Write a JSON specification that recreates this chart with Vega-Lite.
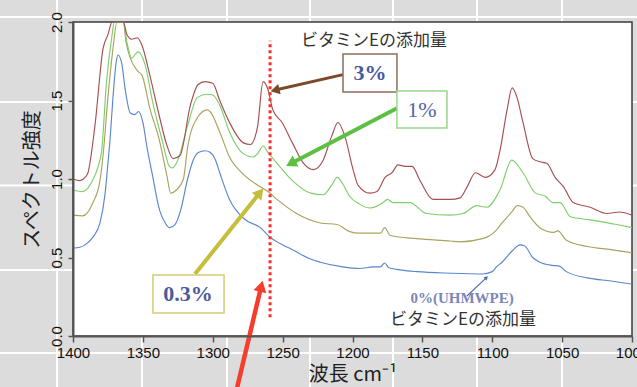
{
  "$schema": "https://vega.github.io/schema/vega-lite/v6.json",
  "width": 559,
  "height": 314,
  "autosize": {"type": "none"},
  "padding": {"left": 73, "top": 22, "right": 5, "bottom": 51},
  "background": "#dcdcdc",
  "config": {
    "view": {"stroke": null},
    "axis": {
      "labelFont": "Liberation Sans", "labelFontSize": 15, "labelColor": "#111", "labelFlush": false,
      "tickColor": "#555", "tickWidth": 1.5, "domainColor": "#555", "domainWidth": 2, "grid": false,
      "titleFont": "Noto Sans CJK JP", "titleFontSize": 20, "titleFontWeight": "normal", "titleColor": "#222"
    },
    "axisX": {"labelPadding": 3, "tickSize": 6, "titlePadding": 4},
    "axisY": {"labelAngle": -90, "labelAlign": "center", "labelBaseline": "bottom", "labelPadding": 4, "tickSize": 5, "titlePadding": 7}
  },
  "datasets": {
    "bgx": [{"w": 1411.4}, {"w": 1350.6}, {"w": 1289.8}, {"w": 1230.4}, {"w": 1171}, {"w": 1110.9}, {"w": 1050.1}],
    "bgy": [{"v": 2.032}, {"v": 1.49}, {"v": 0.958}, {"v": 0.42}, {"v": -0.108}],
    "arrows": [
      {"id": "brown", "w": 1206.8, "v": 1.665, "w2": 1254.4, "v2": 1.568},
      {"id": "green", "w": 1168.2, "v": 1.45, "w2": 1243, "v2": 1.104},
      {"id": "olive", "w": 1312.7, "v": 0.395, "w2": 1267, "v2": 0.905},
      {"id": "red", "w": 1282.6, "v": -0.33, "w2": 1265.6, "v2": 0.306},
      {"id": "blue", "w": 1118.1, "v": 0.255, "w2": 1104.5, "v2": 0.369}
    ],
    "boxes": [
      {"id": "b3", "w": 1206.8, "w2": 1168.2, "v": 1.796, "v2": 1.554, "tw": 1187.5, "tv": 1.675, "t": "3%"},
      {"id": "b1", "w": 1168.2, "w2": 1132.4, "v": 1.56, "v2": 1.325, "tw": 1150.3, "tv": 1.44, "t": "1%"},
      {"id": "b03", "w": 1342.8, "w2": 1291.9, "v": 0.389, "v2": 0.146, "tw": 1317.7, "tv": 0.267, "t": "0.3%"}
    ],
    "labels": [
      {"id": "top", "w": 1184.6, "v": 1.882, "t": "ビタミンEの添加量"},
      {"id": "bottom", "w": 1120.9, "v": 0.1, "t": "ビタミンEの添加量"},
      {"id": "uh", "w": 1121.6, "v": 0.24, "t": "0%(UHMWPE)"}
    ],
    "spectra": [
      {"s":"0%","w":1400,"v":0.56},{"s":"0%","w":1395,"v":0.565},{"s":"0%","w":1390,"v":0.59},{"s":"0%","w":1385.7,"v":0.63},{"s":"0%","w":1380.7,"v":0.72},{"s":"0%","w":1377,"v":0.91},{"s":"0%","w":1375,"v":1.1},{"s":"0%","w":1373.5,"v":1.25},{"s":"0%","w":1371.4,"v":1.52},{"s":"0%","w":1369,"v":1.75},{"s":"0%","w":1367.8,"v":1.79},{"s":"0%","w":1365,"v":1.73},{"s":"0%","w":1362.8,"v":1.58},{"s":"0%","w":1359,"v":1.42},{"s":"0%","w":1356,"v":1.41},{"s":"0%","w":1353,"v":1.43},{"s":"0%","w":1350,"v":1.36},{"s":"0%","w":1347,"v":1.2},{"s":"0%","w":1343.5,"v":1.04},{"s":"0%","w":1338,"v":0.8},{"s":"0%","w":1334,"v":0.72},{"s":"0%","w":1331,"v":0.69},{"s":"0%","w":1327,"v":0.71},{"s":"0%","w":1323,"v":0.8},{"s":"0%","w":1318,"v":1.0},{"s":"0%","w":1314,"v":1.12},{"s":"0%","w":1310,"v":1.17},{"s":"0%","w":1305.5,"v":1.18},{"s":"0%","w":1302,"v":1.17},{"s":"0%","w":1298,"v":1.12},{"s":"0%","w":1295,"v":1.04},{"s":"0%","w":1288,"v":0.87},{"s":"0%","w":1278,"v":0.75},{"s":"0%","w":1266,"v":0.69},{"s":"0%","w":1259,"v":0.63},{"s":"0%","w":1250,"v":0.58},{"s":"0%","w":1243,"v":0.55},{"s":"0%","w":1230,"v":0.49},{"s":"0%","w":1223,"v":0.47},{"s":"0%","w":1207,"v":0.44},{"s":"0%","w":1195,"v":0.43},{"s":"0%","w":1185,"v":0.44},{"s":"0%","w":1180,"v":0.44},{"s":"0%","w":1177,"v":0.465},{"s":"0%","w":1174,"v":0.435},{"s":"0%","w":1165,"v":0.42},{"s":"0%","w":1154,"v":0.41},{"s":"0%","w":1130,"v":0.4},{"s":"0%","w":1107,"v":0.395},{"s":"0%","w":1100,"v":0.41},{"s":"0%","w":1097,"v":0.44},{"s":"0%","w":1093,"v":0.47},{"s":"0%","w":1086,"v":0.54},{"s":"0%","w":1080,"v":0.58},{"s":"0%","w":1077,"v":0.575},{"s":"0%","w":1071,"v":0.5},{"s":"0%","w":1066,"v":0.47},{"s":"0%","w":1057,"v":0.45},{"s":"0%","w":1052,"v":0.445},{"s":"0%","w":1047,"v":0.41},{"s":"0%","w":1032,"v":0.37},{"s":"0%","w":1015,"v":0.35},{"s":"0%","w":1000,"v":0.33},
      {"s":"0.3%","w":1400,"v":0.77},{"s":"0.3%","w":1393,"v":0.765},{"s":"0.3%","w":1385.7,"v":0.85},{"s":"0.3%","w":1380.7,"v":0.99},{"s":"0.3%","w":1378.5,"v":1.15},{"s":"0.3%","w":1375,"v":1.52},{"s":"0.3%","w":1371.4,"v":1.83},{"s":"0.3%","w":1368.5,"v":2.0},{"s":"0.3%","w":1364,"v":2.0},{"s":"0.3%","w":1362,"v":1.87},{"s":"0.3%","w":1359,"v":1.77},{"s":"0.3%","w":1354,"v":1.69},{"s":"0.3%","w":1350.6,"v":1.66},{"s":"0.3%","w":1345,"v":1.45},{"s":"0.3%","w":1338,"v":1.24},{"s":"0.3%","w":1333,"v":1.03},{"s":"0.3%","w":1330,"v":0.91},{"s":"0.3%","w":1326,"v":0.93},{"s":"0.3%","w":1321,"v":1.0},{"s":"0.3%","w":1318,"v":1.2},{"s":"0.3%","w":1311,"v":1.39},{"s":"0.3%","w":1304,"v":1.44},{"s":"0.3%","w":1302,"v":1.43},{"s":"0.3%","w":1295,"v":1.3},{"s":"0.3%","w":1288,"v":1.14},{"s":"0.3%","w":1278,"v":1.03},{"s":"0.3%","w":1266,"v":0.95},{"s":"0.3%","w":1260.5,"v":0.92},{"s":"0.3%","w":1254,"v":0.87},{"s":"0.3%","w":1240,"v":0.78},{"s":"0.3%","w":1223,"v":0.72},{"s":"0.3%","w":1211,"v":0.71},{"s":"0.3%","w":1202,"v":0.665},{"s":"0.3%","w":1195,"v":0.655},{"s":"0.3%","w":1180,"v":0.655},{"s":"0.3%","w":1177,"v":0.69},{"s":"0.3%","w":1173,"v":0.64},{"s":"0.3%","w":1154,"v":0.62},{"s":"0.3%","w":1130,"v":0.605},{"s":"0.3%","w":1123,"v":0.6},{"s":"0.3%","w":1107,"v":0.62},{"s":"0.3%","w":1097,"v":0.675},{"s":"0.3%","w":1093,"v":0.72},{"s":"0.3%","w":1086,"v":0.79},{"s":"0.3%","w":1082,"v":0.83},{"s":"0.3%","w":1078,"v":0.82},{"s":"0.3%","w":1073,"v":0.76},{"s":"0.3%","w":1066,"v":0.69},{"s":"0.3%","w":1056,"v":0.66},{"s":"0.3%","w":1053,"v":0.67},{"s":"0.3%","w":1047,"v":0.61},{"s":"0.3%","w":1032,"v":0.57},{"s":"0.3%","w":1015,"v":0.55},{"s":"0.3%","w":1000,"v":0.53},
      {"s":"1%","w":1400,"v":0.93},{"s":"1%","w":1393,"v":0.92},{"s":"1%","w":1386,"v":0.99},{"s":"1%","w":1382,"v":1.08},{"s":"1%","w":1379.5,"v":1.18},{"s":"1%","w":1376,"v":1.62},{"s":"1%","w":1372,"v":1.92},{"s":"1%","w":1370.5,"v":2.0},{"s":"1%","w":1364,"v":2.0},{"s":"1%","w":1361.4,"v":1.87},{"s":"1%","w":1358,"v":1.77},{"s":"1%","w":1353.5,"v":1.81},{"s":"1%","w":1348.5,"v":1.73},{"s":"1%","w":1343,"v":1.49},{"s":"1%","w":1336,"v":1.24},{"s":"1%","w":1331,"v":1.08},{"s":"1%","w":1329,"v":1.07},{"s":"1%","w":1325,"v":1.12},{"s":"1%","w":1318,"v":1.34},{"s":"1%","w":1311,"v":1.52},{"s":"1%","w":1304,"v":1.54},{"s":"1%","w":1300,"v":1.535},{"s":"1%","w":1295,"v":1.47},{"s":"1%","w":1288,"v":1.3},{"s":"1%","w":1278,"v":1.16},{"s":"1%","w":1271,"v":1.14},{"s":"1%","w":1268,"v":1.16},{"s":"1%","w":1264,"v":1.21},{"s":"1%","w":1260.5,"v":1.17},{"s":"1%","w":1254,"v":1.1},{"s":"1%","w":1243,"v":0.99},{"s":"1%","w":1230,"v":0.91},{"s":"1%","w":1221,"v":0.9},{"s":"1%","w":1215,"v":0.96},{"s":"1%","w":1211,"v":1.01},{"s":"1%","w":1207,"v":0.97},{"s":"1%","w":1204,"v":0.92},{"s":"1%","w":1202,"v":0.89},{"s":"1%","w":1195,"v":0.84},{"s":"1%","w":1187.5,"v":0.815},{"s":"1%","w":1178,"v":0.85},{"s":"1%","w":1175,"v":0.87},{"s":"1%","w":1171,"v":0.85},{"s":"1%","w":1159,"v":0.85},{"s":"1%","w":1147,"v":0.78},{"s":"1%","w":1130,"v":0.77},{"s":"1%","w":1121,"v":0.78},{"s":"1%","w":1111,"v":0.83},{"s":"1%","w":1104,"v":0.82},{"s":"1%","w":1094.5,"v":0.93},{"s":"1%","w":1086,"v":1.12},{"s":"1%","w":1078,"v":1.04},{"s":"1%","w":1069,"v":0.91},{"s":"1%","w":1062,"v":0.89},{"s":"1%","w":1056.5,"v":0.85},{"s":"1%","w":1051.5,"v":0.85},{"s":"1%","w":1044,"v":0.76},{"s":"1%","w":1030,"v":0.74},{"s":"1%","w":1011,"v":0.71},{"s":"1%","w":1000,"v":0.69},
      {"s":"3%","w":1400,"v":1.0},{"s":"3%","w":1395,"v":0.99},{"s":"3%","w":1391.4,"v":1.01},{"s":"3%","w":1389.3,"v":1.04},{"s":"3%","w":1384.3,"v":1.34},{"s":"3%","w":1378.5,"v":1.83},{"s":"3%","w":1375,"v":1.92},{"s":"3%","w":1372,"v":2.0},{"s":"3%","w":1364,"v":2.0},{"s":"3%","w":1361.4,"v":1.92},{"s":"3%","w":1358,"v":1.89},{"s":"3%","w":1354,"v":1.9},{"s":"3%","w":1350.6,"v":1.85},{"s":"3%","w":1345,"v":1.66},{"s":"3%","w":1339,"v":1.43},{"s":"3%","w":1333,"v":1.22},{"s":"3%","w":1328.4,"v":1.13},{"s":"3%","w":1323.4,"v":1.15},{"s":"3%","w":1316,"v":1.47},{"s":"3%","w":1310.6,"v":1.6},{"s":"3%","w":1305.5,"v":1.62},{"s":"3%","w":1300,"v":1.61},{"s":"3%","w":1295,"v":1.5},{"s":"3%","w":1288,"v":1.36},{"s":"3%","w":1278,"v":1.23},{"s":"3%","w":1273,"v":1.22},{"s":"3%","w":1268,"v":1.33},{"s":"3%","w":1264,"v":1.62},{"s":"3%","w":1260.5,"v":1.57},{"s":"3%","w":1257,"v":1.44},{"s":"3%","w":1250.4,"v":1.36},{"s":"3%","w":1243,"v":1.23},{"s":"3%","w":1235,"v":1.1},{"s":"3%","w":1228,"v":1.06},{"s":"3%","w":1221,"v":1.12},{"s":"3%","w":1215,"v":1.27},{"s":"3%","w":1210.4,"v":1.36},{"s":"3%","w":1205.4,"v":1.27},{"s":"3%","w":1199.6,"v":1.06},{"s":"3%","w":1196,"v":0.96},{"s":"3%","w":1187.5,"v":0.91},{"s":"3%","w":1182.5,"v":0.92},{"s":"3%","w":1176.7,"v":1.01},{"s":"3%","w":1171.7,"v":1.04},{"s":"3%","w":1167.4,"v":1.09},{"s":"3%","w":1162.4,"v":1.08},{"s":"3%","w":1157.4,"v":1.08},{"s":"3%","w":1151.7,"v":0.99},{"s":"3%","w":1142.4,"v":0.87},{"s":"3%","w":1130,"v":0.87},{"s":"3%","w":1123,"v":0.88},{"s":"3%","w":1118,"v":0.95},{"s":"3%","w":1112,"v":1.04},{"s":"3%","w":1105,"v":1.01},{"s":"3%","w":1098,"v":1.06},{"s":"3%","w":1094.5,"v":1.18},{"s":"3%","w":1089.4,"v":1.44},{"s":"3%","w":1085.8,"v":1.58},{"s":"3%","w":1082.3,"v":1.52},{"s":"3%","w":1078,"v":1.36},{"s":"3%","w":1071,"v":1.13},{"s":"3%","w":1066,"v":1.11},{"s":"3%","w":1061,"v":1.1},{"s":"3%","w":1055,"v":1.01},{"s":"3%","w":1049,"v":0.95},{"s":"3%","w":1042,"v":0.85},{"s":"3%","w":1030,"v":0.82},{"s":"3%","w":1018,"v":0.78},{"s":"3%","w":1009,"v":0.79},{"s":"3%","w":1000,"v":0.77}
    ]
  },
  "layer": [
    {
      "data": {"name": "bgx"},
      "mark": {"type": "rule", "color": "#ffffff", "strokeWidth": 2},
      "encoding": {
        "x": {"field": "w", "type": "quantitative"},
        "y": {"datum": -0.33, "type": "quantitative"},
        "y2": {"datum": 2.16}
      }
    },
    {
      "data": {"name": "bgy"},
      "mark": {"type": "rule", "color": "#ffffff", "strokeWidth": 2},
      "encoding": {
        "y": {"field": "v", "type": "quantitative"},
        "x": {"datum": 1453, "type": "quantitative"},
        "x2": {"datum": 995}
      }
    },
    {
      "data": {"values": [{"a": 1}]},
      "mark": {"type": "rect", "fill": "#ffffff", "stroke": "#3a3a3a", "strokeWidth": 1.5},
      "encoding": {
        "x": {"datum": 1400, "type": "quantitative"},
        "x2": {"datum": 1000},
        "y": {"datum": 0, "type": "quantitative"},
        "y2": {"datum": 2}
      }
    },
    {
      "data": {"name": "spectra"},
      "mark": {"type": "line", "strokeWidth": 1.15, "interpolate": "monotone", "clip": true},
      "encoding": {
        "x": {
          "field": "w", "type": "quantitative",
          "scale": {"domain": [1000, 1400], "reverse": true, "nice": false, "zero": false},
          "axis": {"title": "波長 cm⁻¹", "values": [1000, 1050, 1100, 1150, 1200, 1250, 1300, 1350, 1400], "format": "d", "zindex": 2}
        },
        "y": {
          "field": "v", "type": "quantitative",
          "scale": {"domain": [0, 2], "nice": false, "zero": false},
          "axis": {"title": "スペクトル強度", "values": [0, 0.5, 1, 1.5, 2], "format": ".1f", "zindex": 2}
        },
        "color": {
          "field": "s", "type": "nominal",
          "scale": {"domain": ["0%", "0.3%", "1%", "3%"], "range": ["#5a86cc", "#a9a35c", "#7fce6c", "#a64f4f"]},
          "legend": null
        }
      }
    },
    {
      "data": {"values": [{"w": 1259, "v": 0.12, "v2": 1.88}]},
      "mark": {"type": "rule", "color": "#ff2b2b", "strokeWidth": 3, "strokeDash": [3, 3]},
      "encoding": {
        "x": {"field": "w", "type": "quantitative"},
        "y": {"field": "v", "type": "quantitative"},
        "y2": {"field": "v2"}
      }
    },
    {
      "data": {"name": "arrows"},
      "transform": [{"filter": "datum.id === 'brown'"}],
      "layer": [
        {"mark": {"type": "rule", "color": "#7a4a2a", "strokeWidth": 3},
         "encoding": {"x": {"field": "w", "type": "quantitative"}, "y": {"field": "v", "type": "quantitative"}, "x2": {"field": "w2"}, "y2": {"field": "v2"}}},
        {"mark": {"type": "point", "shape": "triangle", "filled": true, "color": "#7a4a2a", "opacity": 1, "size": 110, "angle": 256},
         "encoding": {"x": {"field": "w2", "type": "quantitative"}, "y": {"field": "v2", "type": "quantitative"}}}
      ]
    },
    {
      "data": {"name": "arrows"},
      "transform": [{"filter": "datum.id === 'green'"}],
      "layer": [
        {"mark": {"type": "rule", "color": "#5cc040", "strokeWidth": 4},
         "encoding": {"x": {"field": "w", "type": "quantitative"}, "y": {"field": "v", "type": "quantitative"}, "x2": {"field": "w2"}, "y2": {"field": "v2"}}},
        {"mark": {"type": "point", "shape": "triangle", "filled": true, "color": "#5cc040", "opacity": 1, "size": 150, "angle": 242},
         "encoding": {"x": {"field": "w2", "type": "quantitative"}, "y": {"field": "v2", "type": "quantitative"}}}
      ]
    },
    {
      "data": {"name": "arrows"},
      "transform": [{"filter": "datum.id === 'olive'"}],
      "layer": [
        {"mark": {"type": "rule", "color": "#c4be3a", "strokeWidth": 4},
         "encoding": {"x": {"field": "w", "type": "quantitative"}, "y": {"field": "v", "type": "quantitative"}, "x2": {"field": "w2"}, "y2": {"field": "v2"}}},
        {"mark": {"type": "point", "shape": "triangle", "filled": true, "color": "#c4be3a", "opacity": 1, "size": 150, "angle": 39},
         "encoding": {"x": {"field": "w2", "type": "quantitative"}, "y": {"field": "v2", "type": "quantitative"}}}
      ]
    },
    {
      "data": {"name": "arrows"},
      "transform": [{"filter": "datum.id === 'red'"}],
      "layer": [
        {"mark": {"type": "rule", "color": "#f53d2d", "strokeWidth": 4.5},
         "encoding": {"x": {"field": "w", "type": "quantitative"}, "y": {"field": "v", "type": "quantitative"}, "x2": {"field": "w2"}, "y2": {"field": "v2"}}},
        {"mark": {"type": "point", "shape": "triangle", "filled": true, "color": "#f53d2d", "opacity": 1, "size": 170, "angle": 13.5},
         "encoding": {"x": {"field": "w2", "type": "quantitative"}, "y": {"field": "v2", "type": "quantitative"}}}
      ]
    },
    {
      "data": {"name": "arrows"},
      "transform": [{"filter": "datum.id === 'blue'"}],
      "layer": [
        {"mark": {"type": "rule", "color": "#5a6aa8", "strokeWidth": 1.2},
         "encoding": {"x": {"field": "w", "type": "quantitative"}, "y": {"field": "v", "type": "quantitative"}, "x2": {"field": "w2"}, "y2": {"field": "v2"}}},
        {"mark": {"type": "point", "shape": "triangle", "filled": true, "color": "#5a6aa8", "opacity": 1, "size": 22, "angle": 46},
         "encoding": {"x": {"field": "w2", "type": "quantitative"}, "y": {"field": "v2", "type": "quantitative"}}}
      ]
    },
    {
      "data": {"name": "boxes"},
      "transform": [{"filter": "datum.id === 'b3'"}],
      "layer": [
        {"mark": {"type": "rect", "fill": "#ffffff", "stroke": "#8c6e5a", "strokeWidth": 1.5},
         "encoding": {"x": {"field": "w", "type": "quantitative"}, "x2": {"field": "w2"}, "y": {"field": "v", "type": "quantitative"}, "y2": {"field": "v2"}}},
        {"mark": {"type": "text", "font": "Liberation Serif", "fontSize": 22, "fontWeight": "bold", "color": "#4b5a9c", "baseline": "middle", "align": "center"},
         "encoding": {"x": {"field": "tw", "type": "quantitative"}, "y": {"field": "tv", "type": "quantitative"}, "text": {"field": "t"}}}
      ]
    },
    {
      "data": {"name": "boxes"},
      "transform": [{"filter": "datum.id === 'b1'"}],
      "layer": [
        {"mark": {"type": "rect", "fill": "#ffffff", "stroke": "#98d888", "strokeWidth": 1.5},
         "encoding": {"x": {"field": "w", "type": "quantitative"}, "x2": {"field": "w2"}, "y": {"field": "v", "type": "quantitative"}, "y2": {"field": "v2"}}},
        {"mark": {"type": "text", "font": "Liberation Serif", "fontSize": 22, "fontWeight": "normal", "color": "#5566a5", "baseline": "middle", "align": "center"},
         "encoding": {"x": {"field": "tw", "type": "quantitative"}, "y": {"field": "tv", "type": "quantitative"}, "text": {"field": "t"}}}
      ]
    },
    {
      "data": {"name": "boxes"},
      "transform": [{"filter": "datum.id === 'b03'"}],
      "layer": [
        {"mark": {"type": "rect", "fill": "#ffffff", "stroke": "#d2cc74", "strokeWidth": 1.5},
         "encoding": {"x": {"field": "w", "type": "quantitative"}, "x2": {"field": "w2"}, "y": {"field": "v", "type": "quantitative"}, "y2": {"field": "v2"}}},
        {"mark": {"type": "text", "font": "Liberation Serif", "fontSize": 22, "fontWeight": "bold", "color": "#4b5a9c", "baseline": "middle", "align": "center"},
         "encoding": {"x": {"field": "tw", "type": "quantitative"}, "y": {"field": "tv", "type": "quantitative"}, "text": {"field": "t"}}}
      ]
    },
    {
      "data": {"name": "labels"},
      "transform": [{"filter": "datum.id !== 'uh'"}],
      "mark": {"type": "text", "font": "Noto Sans CJK JP", "fontSize": 17, "color": "#333333", "baseline": "middle", "align": "center"},
      "encoding": {"x": {"field": "w", "type": "quantitative"}, "y": {"field": "v", "type": "quantitative"}, "text": {"field": "t"}}
    },
    {
      "data": {"name": "labels"},
      "transform": [{"filter": "datum.id === 'uh'"}],
      "mark": {"type": "text", "font": "Liberation Serif", "fontSize": 15, "fontWeight": "bold", "color": "#7a86bb", "baseline": "middle", "align": "center"},
      "encoding": {"x": {"field": "w", "type": "quantitative"}, "y": {"field": "v", "type": "quantitative"}, "text": {"field": "t"}}
    }
  ]
}
